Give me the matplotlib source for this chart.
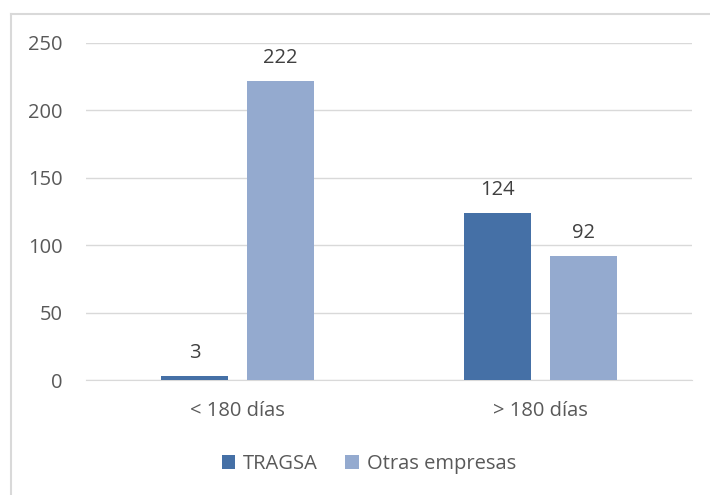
import numpy as np
import matplotlib.pyplot as plt
from matplotlib.lines import Line2D

categories = ["< 180 días", "> 180 días"]
tragsa = [3, 124]
otras = [222, 92]
series_names = ["TRAGSA", "Otras empresas"]

plt.rcParams['font.family'] = ['Open Sans', 'DejaVu Sans']
txt = '#595959'
fs = 14.5

fig = plt.figure(figsize=(7.1, 4.95), dpi=100)
ax = fig.add_axes([86/710, 1 - 380/495, 606/710, 337/495])

# outer frame of the chart area (only top and left edges visible, rest cropped)
frame_col = '#D9D9D9'
fig.add_artist(Line2D([10.5/710, 1], [1 - 13.5/495] * 2, transform=fig.transFigure,
                      color=frame_col, linewidth=1.5))
fig.add_artist(Line2D([10.5/710] * 2, [0, 1 - 13.5/495], transform=fig.transFigure,
                      color=frame_col, linewidth=1.5))

x = np.arange(len(categories))
w = 0.224
off = 0.142
b1 = ax.bar(x - off, tragsa, w, color='#4570A6', label=series_names[0], zorder=3)
b2 = ax.bar(x + off, otras, w, color='#94AACF', label=series_names[1], zorder=3)

for bars, vals in ((b1, tragsa), (b2, otras)):
    for r, v in zip(bars, vals):
        ax.annotate(str(v), (r.get_x() + r.get_width()/2, v), xytext=(0, 9),
                    textcoords='offset points', ha='center', va='bottom',
                    fontsize=fs, color='#404040')

ax.set_xlim(-0.5, 1.5)
ax.set_ylim(0, 250)
ax.set_yticks(range(0, 251, 50))
ax.set_xticks(x)
ax.set_xticklabels(categories)
ax.grid(axis='y', color='#D9D9D9', linewidth=1, zorder=0)
for s in ('top', 'right', 'left'):
    ax.spines[s].set_visible(False)
ax.spines['bottom'].set_color('#D9D9D9')
ax.tick_params(axis='both', length=0, labelsize=fs, labelcolor=txt)
ax.tick_params(axis='y', pad=17)
ax.tick_params(axis='x', pad=15)

fig.legend(loc='center', bbox_to_anchor=(369/710, 1 - 464/495), ncol=2, frameon=False,
           fontsize=fs, labelcolor=txt, handlelength=0.67, handleheight=0.67,
           columnspacing=1.35, handletextpad=0.4)

fig.savefig('out.png', dpi=100)
